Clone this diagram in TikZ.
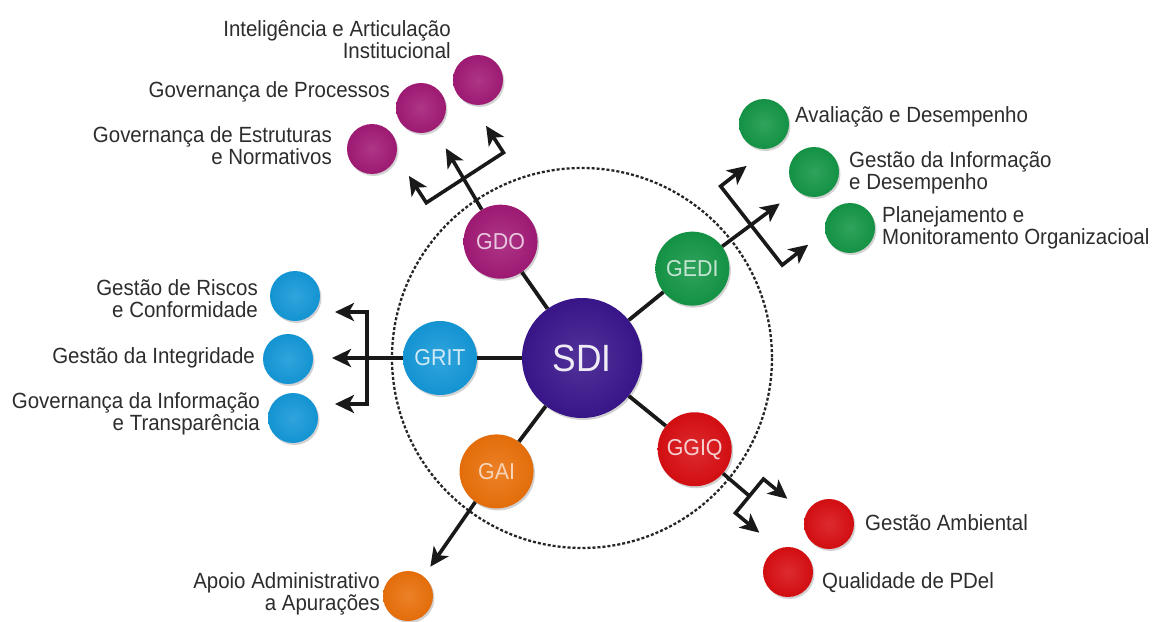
\documentclass[tikz,border=0pt]{standalone}
\usepackage{fontspec}
\setmainfont{Liberation Sans}
\newfontfamily\labelfamily[FakeStretch=0.93]{Liberation Sans}
\usetikzlibrary{arrows.meta,calc,shadows}

\definecolor{txt}{RGB}{45,45,45}
\definecolor{sdicol}{RGB}{58,22,140}
\definecolor{gdocol}{RGB}{162,26,118}
\definecolor{gedicol}{RGB}{20,150,70}
\definecolor{gritcol}{RGB}{20,152,216}
\definecolor{gaicol}{RGB}{234,112,10}
\definecolor{ggiqcol}{RGB}{216,14,18}

\tikzset{
  lbl/.style={font=\labelfamily\fontsize{22}{22}\selectfont, text=txt, inner sep=0pt},
  % multi-line labels are anchored on the baseline of their last line
  lblL/.style={lbl, align=right, anchor=base east},
  lblR/.style={lbl, align=left, anchor=base west},
  orb/.style={circle, inner sep=0pt, minimum size=#1,
    drop shadow={shadow xshift=1.5pt, shadow yshift=-2pt, opacity=0.35, fill=gray}},
  tinted/.style={shade, inner color=#1!88!white, outer color=#1!97!black},
  unitlbl/.style={font=\labelfamily\fontsize{23}{23}\selectfont},
  spoke/.style={line width=3.8pt, black!90},
  tip/.tip={Stealth[length=19pt,width=18pt,inset=5pt]},
  arr/.style={line width=3.6pt, black!90, -tip},
  arrs/.style={line width=3.6pt, black!90, miter limit=4, tip-tip},
  orbit/.style={line width=2.3pt, black!85, dash pattern=on 3pt off 2pt}
}

\begin{document}
\begin{tikzpicture}[x=1pt,y=-1pt]
\useasboundingbox (0,0) rectangle (1159,621);
\fill[white] (0,0) rectangle (1159,621);

% centre and dashed orbit
\coordinate (c) at (582,358);
\draw[orbit] (c) circle[radius=190];

% central unit
\node[orb=120pt, tinted=sdicol, text=sdicol!8!white,
      font=\labelfamily\fontsize{38}{38}\selectfont] (sdi) at (c) {SDI};

% directorates
\node[orb=74pt, tinted=gdocol, text=gdocol!25!white, unitlbl] (gdo) at ($(c)+(-125:142)$) {GDO};
\node[orb=74pt, tinted=gedicol, text=gedicol!25!white, unitlbl] (gedi) at ($(c)+(-39:142)$) {GEDI};
\node[orb=74pt, tinted=gritcol, text=gritcol!20!white, unitlbl] (grit) at ($(c)+(180:142)$) {GRIT};
\node[orb=74pt, tinted=gaicol, text=gaicol!30!white, unitlbl] (gai) at ($(c)+(127:142)$) {GAI};
\node[orb=74pt, tinted=ggiqcol, text=ggiqcol!20!white, unitlbl] (ggiq) at ($(c)+(39:145)$) {GGIQ};

\foreach \u in {gdo,gedi,grit,gai,ggiq} \draw[spoke] (sdi) -- (\u);

% GDO sub-units
\node[orb=50pt, tinted=gdocol] (gdo1) at (478,80) {};
\node[orb=50pt, tinted=gdocol] (gdo2) at (421,108) {};
\node[orb=50pt, tinted=gdocol] (gdo3) at (372,149) {};
\node[lblL] (gdo1t) at (451,58) {Inteligência e Articulação\\Institucional};
\node[lblL] (gdo2t) at (390,97) {Governança de Processos};
\node[lblL] (gdo3t) at (332,164) {Governança de Estruturas\\e Normativos};

% GEDI sub-units
\node[orb=50pt, tinted=gedicol] (gedi1) at (764,124) {};
\node[orb=50pt, tinted=gedicol] (gedi2) at (814,172) {};
\node[orb=50pt, tinted=gedicol] (gedi3) at (850,228) {};
\node[lblR] (gedi1t) at (795,122) {Avaliação e Desempenho};
\node[lblR] (gedi2t) at (849,189) {Gestão da Informação\\e Desempenho};
\node[lblR] (gedi3t) at (882,244) {Planejamento e\\Monitoramento Organizacioal};

% GRIT sub-units
\node[orb=50pt, tinted=gritcol] (grit1) at (295,296) {};
\node[orb=50pt, tinted=gritcol] (grit2) at (288,359) {};
\node[orb=50pt, tinted=gritcol] (grit3) at (293,418) {};
\node[lblL] (grit1t) at (258,317) {Gestão de Riscos\\e Conformidade};
\node[lblL] (grit2t) at (255,363) {Gestão da Integridade};
\node[lblL] (grit3t) at (260,430) {Governança da Informação\\e Transparência};

% GAI sub-unit
\node[orb=50pt, tinted=gaicol] (gai1) at (408,596) {};
\node[lblL] (gai1t) at (380,610) {Apoio Administrativo\\a Apurações};

% GGIQ sub-units
\node[orb=50pt, tinted=ggiqcol] (ggiq1) at (829,524) {};
\node[orb=50pt, tinted=ggiqcol] (ggiq2) at (788,572) {};
\node[lblR] (ggiq1t) at (865,530) {Gestão Ambiental};
\node[lblR] (ggiq2t) at (822,588) {Qualidade de PDel};

% GDO fork
\coordinate (gdoX) at ($(c)+(-123:215)$);
\coordinate (gdoTip) at ($(c)+(-123:250)$);
\coordinate (gdoA) at ($(gdoX)+(-33:46)$);
\coordinate (gdoB) at ($(gdoX)+(147:46)$);
\coordinate (gdoAt) at ($(gdoA)+(-123:32)$);
\coordinate (gdoBt) at ($(gdoB)+(-123:32)$);
\draw[arr] (gdo) -- (gdoTip);
\draw[arrs] (gdoAt) -- (gdoA) -- (gdoB) -- (gdoBt);

% GEDI fork
\coordinate (gediX) at ($(c)+(-38:215)$);
\coordinate (gediTip) at ($(c)+(-38:251)$);
\coordinate (gediA) at ($(gediX)+(52:50)$);
\coordinate (gediB) at ($(gediX)+(-128:50)$);
\coordinate (gediAt) at ($(gediA)+(-38:33)$);
\coordinate (gediBt) at ($(gediB)+(-38:33)$);
\draw[arr] (gedi) -- (gediTip);
\draw[arrs] (gediAt) -- (gediA) -- (gediB) -- (gediBt);

% GRIT fork
\coordinate (gritX) at ($(c)+(180:215)$);
\coordinate (gritTip) at ($(c)+(180:250)$);
\coordinate (gritA) at ($(gritX)+(-90:46)$);
\coordinate (gritB) at ($(gritX)+(90:46)$);
\coordinate (gritAt) at ($(gritA)+(180:32)$);
\coordinate (gritBt) at ($(gritB)+(180:32)$);
\draw[arr] (grit) -- (gritTip);
\draw[arrs] (gritAt) -- (gritA) -- (gritB) -- (gritBt);

% GAI arrow
\coordinate (gaiTip) at ($(c)+(126:258)$);
\draw[arr] (gai) -- (gaiTip);

% GGIQ fork
\coordinate (ggiqX) at ($(c)+(39.5:217)$);
\coordinate (ggiqA) at ($(ggiqX)+(-50.5:22)$);
\coordinate (ggiqB) at ($(ggiqX)+(129.5:22)$);
\coordinate (ggiqAt) at ($(ggiqA)+(39.5:31)$);
\coordinate (ggiqBt) at ($(ggiqB)+(39.5:31)$);
\draw[spoke, line width=3.6pt] (ggiq) -- (ggiqX);
\draw[arrs] (ggiqAt) -- (ggiqA) -- (ggiqB) -- (ggiqBt);
\end{tikzpicture}
\end{document}
